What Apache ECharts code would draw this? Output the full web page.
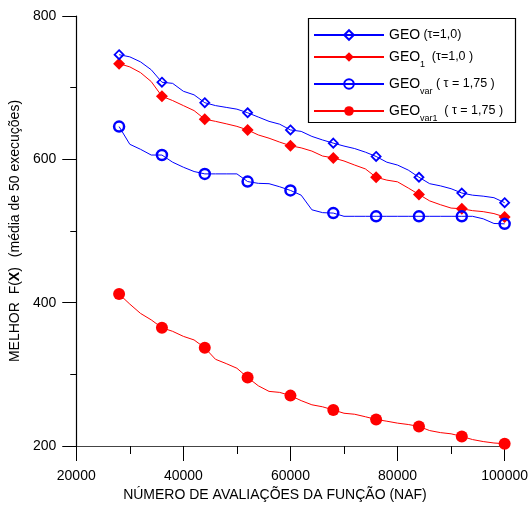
<!DOCTYPE html>
<html>
<head>
<meta charset="utf-8">
<script src="https://cdn.jsdelivr.net/npm/echarts@6/dist/echarts.min.js"></script>
<style>
html,body{margin:0;padding:0;background:#fff;}
#chart{width:531px;height:507px;}
</style>
</head>
<body>
<div id="chart"></div>
<script>
// Number of function evaluations (x values)
var naf = [28000,30000,32000,34000,36000,38000,40000,42000,44000,46000,48000,50000,52000,54000,56000,58000,60000,62000,64000,66000,68000,70000,72000,74000,76000,78000,80000,82000,84000,86000,88000,90000,92000,94000,96000,98000,100000];
var geo = [746,743,736,725,707.6,706,695,690,679,675,672.5,670,665,659,653,649,641,639,632,627,622.6,618.5,615,610,604,596,592,585,575,566,563,559,553,550,548.6,546.5,539.5];
var geo1 = [733.5,729,721,708.5,688,682,675,668,656,653,649.6,646,641,634,629.5,624,619,616,611.5,604.6,602,597.7,592,586.6,575,571,568.6,560,551,542,536.7,532,531,528.4,527,524.3,519.6];
var geoVar = [645.7,621,614,606,606,596,589,583,579.7,579.7,579.7,579.7,569,566.5,566,561.7,556.6,550,529.6,525.6,525,520.5,520.5,520.5,520.5,520.5,520.5,520.5,520.5,520.5,520.5,520.5,520.5,520.5,517,510.5,510];
var geoVar1 = [412,398,385,376,365,360,353,348,337,321,315,308.5,295.6,284,276.2,274.8,270.3,263.3,257.5,254.7,250.3,245.7,244.3,240.8,237,234.6,231.9,230,227.3,221.5,218.7,217,213.4,209,206.2,204.2,203.2];
var seriesNames = ['GEO','GEO1','GEOvar','GEOvar1'];
var legendLabels = {
  'GEO': '{m|GEO} {t|(τ=1,0)}',
  'GEO1': '{m|GEO}{s|1}  {t|(τ=1,0 )}',
  'GEOvar': '{m|GEO}{s|var} {t|( τ = 1,75 )}',
  'GEOvar1': '{m|GEO}{s|var1}  {t|( τ = 1,75 )}'
};
var xTicks = [20000,40000,60000,80000,100000];
var yTicks = [200,400,600,800];

var FONT = "'Liberation Sans', Arial, sans-serif";

function build(vals) {
  return naf.map(function (x, i) {
    var item = { value: [x, vals[i]] };
    if (i % 4 !== 0) item.symbol = 'none';
    return item;
  });
}

var chart = echarts.init(document.getElementById('chart'), null, {renderer: 'canvas'});
var option = {
  backgroundColor: '#fff',
  animation: false,
  textStyle: { fontFamily: FONT },
  grid: { left: 72, top: 16, right: 24, bottom: 58, containLabel: false },
  graphic: [{
    type: 'rect', left: 306, top: 16, z: 10,
    shape: { width: 207, height: 104 },
    style: { fill: 'none', stroke: '#000', lineWidth: 1.2 }
  }],
  legend: {
    orient: 'vertical', left: 313, top: 28, padding: 0, itemGap: 8,
    itemWidth: 70, itemHeight: 12,
    data: seriesNames,
    formatter: function (n) { return legendLabels[n]; },
    textStyle: {
      color: '#000', fontFamily: FONT,
      rich: {
        m: { fontSize: 14, lineHeight: 24, verticalAlign: 'middle', fontFamily: FONT, color: '#000' },
        s: { fontSize: 9, lineHeight: 14, verticalAlign: 'bottom', fontFamily: FONT, color: '#000' },
        t: { fontSize: 12.5, lineHeight: 24, verticalAlign: 'middle', fontFamily: FONT, color: '#000' }
      }
    }
  },
  xAxis: {
    type: 'value', min: 20000, max: 100000, interval: 20000,
    name: 'NÚMERO DE AVALIAÇÕES DA FUNÇÃO (NAF)',
    nameLocation: 'middle', nameGap: 42,
    nameTextStyle: { fontSize: 14, color: '#000', fontFamily: FONT, padding: [0, 31, 0, 0] },
    axisLine: { onZero: false, lineStyle: { color: '#444', width: 1.2 } },
    axisTick: { inside: false, length: 15, lineStyle: { color: '#000', width: 1 } },
    minorTick: { show: true, splitNumber: 2, length: 8, lineStyle: { color: '#000', width: 1 } },
    axisLabel: { fontSize: 14, color: '#000', margin: 23, fontFamily: FONT,
      formatter: function (v) { return String(v); } },
    splitLine: { show: false }
  },
  yAxis: {
    type: 'value', min: 200, max: 800, interval: 200,
    name: '{a|MELHOR  F(}{b|X}{a|)}   {c|(média de 50 execuções)}',
    nameLocation: 'middle', nameGap: 47, nameRotate: 90,
    nameTextStyle: {
      color: '#000', fontFamily: FONT,
      rich: {
        a: { fontSize: 14, color: '#000', fontFamily: FONT },
        b: { fontSize: 14, fontWeight: 'bold', color: '#000', fontFamily: FONT },
        c: { fontSize: 14, color: '#000', fontFamily: FONT }
      }
    },
    axisLine: { show: true, onZero: false, lineStyle: { color: '#000', width: 1.2 } },
    axisTick: { show: true, inside: false, length: 14, lineStyle: { color: '#000', width: 1 } },
    minorTick: { show: true, splitNumber: 2, length: 6, lineStyle: { color: '#000', width: 1 } },
    axisLabel: { fontSize: 14, color: '#000', margin: 20, fontFamily: FONT },
    splitLine: { show: false }
  },
  series: [
    {
      name: 'GEO', type: 'line', data: build(geo), showAllSymbol: true,
      symbol: 'diamond', symbolSize: 9,
      lineStyle: { color: '#0000ff', width: 1 },
      itemStyle: { color: 'rgba(255,255,255,0)', borderColor: '#0000ff', borderWidth: 1.8 },
      z: 3
    },
    {
      name: 'GEO1', type: 'line', data: build(geo1), showAllSymbol: true,
      symbol: 'diamond', symbolSize: 12,
      lineStyle: { color: '#ff0000', width: 1 },
      itemStyle: { color: '#ff0000', borderWidth: 0 },
      z: 2
    },
    {
      name: 'GEOvar', type: 'line', data: build(geoVar), showAllSymbol: true,
      symbol: 'circle', symbolSize: 10,
      lineStyle: { color: '#0000ff', width: 1 },
      itemStyle: { color: 'rgba(255,255,255,0)', borderColor: '#0000ff', borderWidth: 2.5 },
      z: 3
    },
    {
      name: 'GEOvar1', type: 'line', data: build(geoVar1), showAllSymbol: true,
      symbol: 'circle', symbolSize: 12,
      lineStyle: { color: '#ff0000', width: 1 },
      itemStyle: { color: '#ff0000', borderWidth: 0 },
      z: 2
    }
  ]
};
chart.setOption(option);
</script>
</body>
</html>
